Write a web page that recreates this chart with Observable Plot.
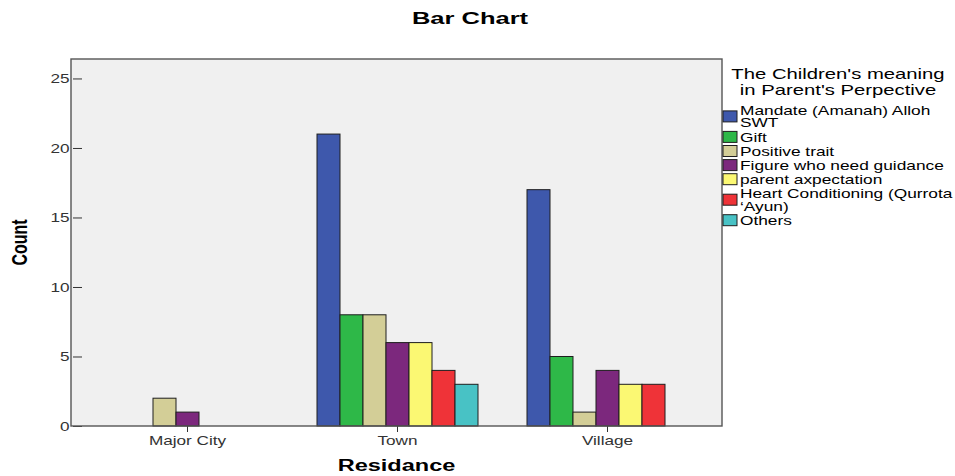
<!DOCTYPE html>
<html>
<head>
<meta charset="utf-8">
<script src="https://cdn.jsdelivr.net/npm/d3@7"></script>
<script src="https://cdn.jsdelivr.net/npm/@observablehq/plot@0.6"></script>
<style>
  body { margin: 0; background: #fff; }
  #chart svg { display: block; }
</style>
</head>
<body>
<div id="chart"></div>
<script>
// Residence categories along the x axis
const residence = ["Major City", "Town", "Village"];

// Meaning categories (one bar per category within each residence group)
const meanings = [
  "Mandate (Amanah) Alloh SWT",
  "Gift",
  "Positive trait",
  "Figure who need guidance",
  "parent axpectation",
  "Heart Conditioning (Qurrota \u2018Ayun)",
  "Others"
];
const meaningColors = ["#3e58ac", "#2eb848", "#d3ce97", "#7c287d", "#fbf873", "#ef3338", "#48c2c5"];

// Counts per meaning, in residence order (Major City, Town, Village)
const mandateCounts  = [0, 21, 17];
const giftCounts     = [0, 8, 5];
const positiveCounts = [2, 8, 1];
const figureCounts   = [1, 6, 4];
const parentCounts   = [0, 6, 3];
const heartCounts    = [0, 4, 3];
const othersCounts   = [0, 3, 0];

const countTicks = [0, 5, 10, 15, 20, 25];
const chartTitle = "Bar Chart";
const xTitle = "Residance";
const yTitle = "Count";
const legendTitle = ["The Children's meaning", "in Parent's Perpective"];

const series = [mandateCounts, giftCounts, positiveCounts, figureCounts, parentCounts, heartCounts, othersCounts];
const rows = meanings.flatMap((m, i) =>
  residence.map((r, j) => ({ residence: r, meaning: m, count: series[i][j] }))
);

// Layout
const W = 955, H = 476;
const mL = 71, mR = 233, mT = 59, mB = 50;
const FONT = "'Liberation Sans', Arial, Helvetica, sans-serif";

const plot = Plot.plot({
  width: W,
  height: H,
  marginLeft: mL,
  marginRight: mR,
  marginTop: mT,
  marginBottom: mB,
  style: { fontFamily: FONT, fontSize: "13px", color: "#333", background: "transparent", overflow: "visible" },
  fx: { domain: residence, paddingInner: 0, paddingOuter: 0.043, axis: "bottom", label: null, tickSize: 6, tickPadding: 3 },
  x: { domain: meanings, paddingInner: 0, paddingOuter: 0.877, axis: null },
  y: { domain: [0, 26.4], ticks: countTicks, tickSize: 9, tickPadding: 4, label: null },
  color: { domain: meanings, range: meaningColors },
  marks: [
    Plot.barY(rows.filter(d => d.count > 0), {
      fx: "residence",
      x: "meaning",
      y: "count",
      fill: "meaning",
      stroke: "#1e1e1e",
      strokeWidth: 1,
      inset: 0
    })
  ]
});

document.getElementById("chart").append(plot);
const svg = d3.select(plot);

// Horizontally widen text glyphs by a factor
function widen(sel, k) {
  sel.each(function () {
    const w = this.getComputedTextLength();
    if (w > 0) {
      this.setAttribute("textLength", (w * k).toFixed(2));
      this.setAttribute("lengthAdjust", "spacingAndGlyphs");
    }
  });
}
widen(svg.selectAll("text"), 1.32);

// Plot-area background and border
const pw = W - mL - mR, ph = H - mT - mB;
svg.insert("rect", ":first-child")
  .attr("x", mL).attr("y", mT).attr("width", pw).attr("height", ph)
  .attr("fill", "#f0f0f0");
svg.insert("rect", ":first-child")
  .attr("width", W).attr("height", H).attr("fill", "#fff");
svg.append("rect")
  .attr("x", mL).attr("y", mT).attr("width", pw).attr("height", ph)
  .attr("fill", "none").attr("stroke", "#555").attr("stroke-width", 1.4);

// Chart title
const title = svg.append("text")
  .attr("x", 470).attr("y", 23.5)
  .attr("text-anchor", "middle")
  .attr("font-family", FONT).attr("font-size", 17).attr("font-weight", "bold")
  .attr("fill", "#000")
  .text(chartTitle);
widen(title, 1.5);

// Axis titles
const xt = svg.append("text")
  .attr("x", mL + pw / 2).attr("y", 470.5)
  .attr("text-anchor", "middle")
  .attr("font-family", FONT).attr("font-size", 16).attr("font-weight", "bold")
  .attr("fill", "#000")
  .text(xTitle);
widen(xt, 1.47);

svg.append("text")
  .attr("transform", `translate(19,${mT + ph / 2}) scale(1.35,1) rotate(-90)`)
  .attr("text-anchor", "middle")
  .attr("dy", "0.36em")
  .attr("font-family", FONT).attr("font-size", 16).attr("font-weight", "bold")
  .attr("fill", "#000")
  .text(yTitle);

// Legend
const legend = svg.append("g")
  .attr("font-family", FONT)
  .attr("fill", "#000")
  .attr("text-anchor", "start");
legendTitle.forEach((line, i) => {
  const t = legend.append("text")
    .attr("x", 838).attr("y", 79 + i * 15.5)
    .attr("text-anchor", "middle")
    .attr("font-size", 15)
    .text(line);
  widen(t, 1.35);
});

const itemX = 740, maxW = 216, stretchK = 1.33, lineH = 12.8, itemGap = 1.3;
function wrapLines(label) {
  const probe = legend.append("text").attr("font-size", 13);
  const words = label.split(" ");
  const lines = [];
  let cur = "";
  for (const w of words) {
    const next = cur ? cur + " " + w : w;
    probe.text(next);
    if (cur && probe.node().getComputedTextLength() * stretchK > maxW) {
      lines.push(cur);
      cur = w;
    } else {
      cur = next;
    }
  }
  lines.push(cur);
  probe.remove();
  return lines;
}

let cy = 110;
meanings.forEach((m, i) => {
  const lines = wrapLines(m);
  const mid = cy + (lines.length - 1) * lineH / 2;
  legend.append("rect")
    .attr("x", 723).attr("y", mid - 5.5)
    .attr("width", 14).attr("height", 11)
    .attr("fill", meaningColors[i])
    .attr("stroke", "#1e1e1e").attr("stroke-width", 1);
  lines.forEach((ln, k) => {
    const t = legend.append("text")
      .attr("x", itemX).attr("y", cy + k * lineH + 4.6)
      .attr("text-anchor", "start")
      .attr("font-size", 13)
      .text(ln);
    widen(t, stretchK);
  });
  cy += lines.length * lineH + itemGap;
});
</script>
</body>
</html>
